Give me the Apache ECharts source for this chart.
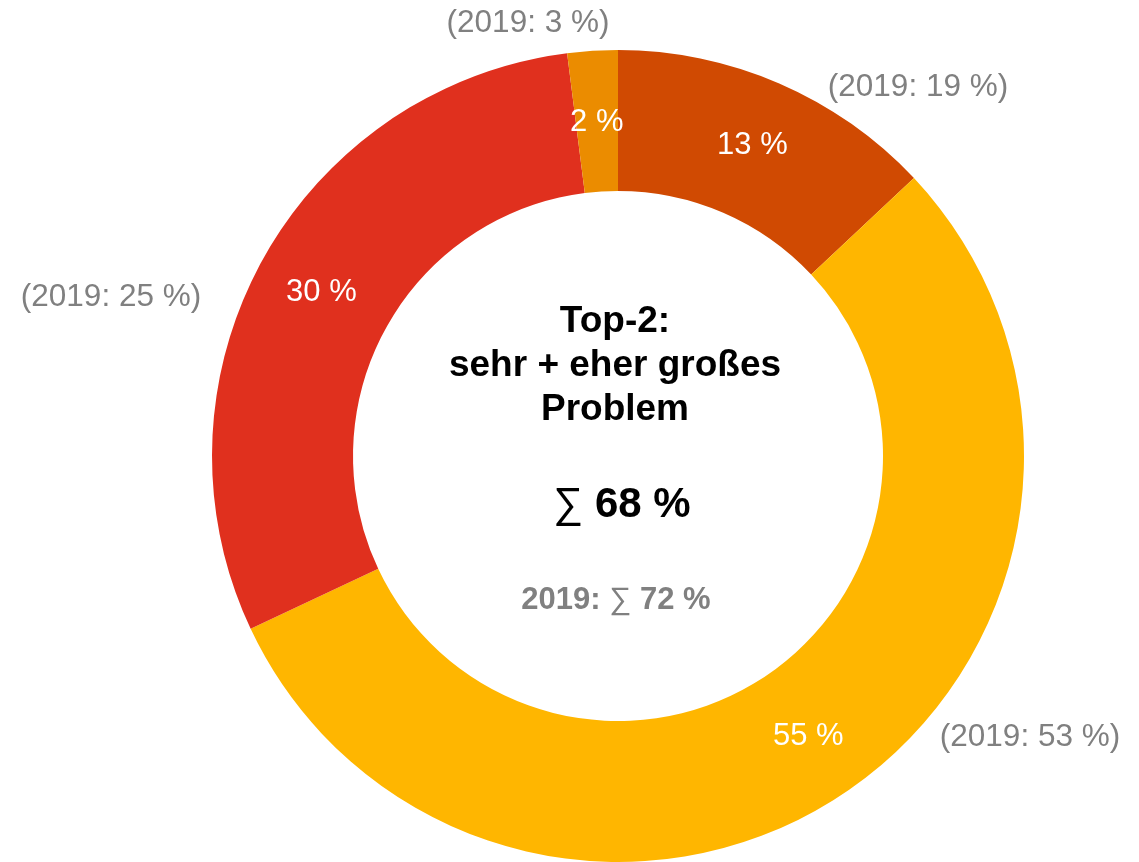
<!DOCTYPE html>
<html>
<head>
<meta charset="utf-8">
<script src="https://cdn.jsdelivr.net/npm/echarts@6/dist/echarts.min.js"></script>
<style>
  html, body { margin: 0; padding: 0; background: #fff; }
  #chart { width: 1139px; height: 862px; }
</style>
</head>
<body>
<div id="chart"></div>
<script>
// Answer shares (current survey) and the 2019 comparison values, clockwise from 12 o'clock
const categories = ['sehr großes Problem', 'eher großes Problem', 'eher kein Problem', 'gar kein Problem'];
const values = [13, 55, 30, 2];
const values2019 = [19, 53, 25, 3];
const colors = ['#D04A02', '#FFB600', '#E0301E', '#EB8C00'];

// Top-2 = first two answer options
const top2 = values[0] + values[1];
const top2Prev = values2019[0] + values2019[1];

// Where the comparison labels sit on the canvas
const prevLabelPos = [[918, 87], [1030, 737], [111, 297], [528, 23]];

const FONT = '"Liberation Sans", Arial, sans-serif';
const GRAY = '#808080';
const CX = 618, CY = 456;

const chart = echarts.init(document.getElementById('chart'), null, { renderer: 'canvas' });

const pieData = categories.map((name, i) => ({
  name, value: values[i], itemStyle: { color: colors[i] }
}));

chart.setOption({
  animation: false,
  series: [
    {
      type: 'pie',
      center: [CX, CY],
      radius: [265, 406],
      startAngle: 90,
      clockwise: true,
      avoidLabelOverlap: false,
      silent: true,
      itemStyle: { borderWidth: 0 },
      label: {
        show: true,
        position: 'inside',
        formatter: p => p.value + ' %',
        color: '#fff',
        fontFamily: FONT,
        fontSize: 31
      },
      labelLine: { show: false },
      labelLayout: p => (p.dataIndex === 3 ? { dy: 4 } : {}),
      data: pieData
    },
    {
      // same slices, invisible, carrying the 2019 comparison labels
      type: 'pie',
      center: [CX, CY],
      radius: [265, 406],
      startAngle: 90,
      clockwise: true,
      avoidLabelOverlap: false,
      silent: true,
      itemStyle: { color: 'rgba(0,0,0,0)', borderWidth: 0 },
      label: {
        show: true,
        position: 'outside',
        formatter: p => '(2019: ' + values2019[p.dataIndex] + ' %)',
        color: GRAY,
        fontFamily: FONT,
        fontSize: 31.5
      },
      labelLine: { show: false },
      labelLayout: p => ({
        x: prevLabelPos[p.dataIndex][0],
        y: prevLabelPos[p.dataIndex][1],
        align: 'center',
        verticalAlign: 'middle'
      }),
      data: categories.map((name, i) => ({ name, value: values[i] }))
    }
  ],
  graphic: [
    {
      type: 'text',
      style: {
        x: 615, y: 366,
        text: 'Top-2:\nsehr + eher großes\nProblem',
        fill: '#000', font: 'bold 37px ' + FONT,
        lineHeight: 44,
        align: 'center', verticalAlign: 'middle'
      }
    },
    {
      type: 'text',
      style: {
        x: 622, y: 505,
        text: '{s|∑} {b|' + top2 + ' %}',
        fill: '#000',
        align: 'center', verticalAlign: 'middle',
        rich: {
          s: { fontFamily: FONT, fontSize: 42, fontWeight: 'normal', fill: '#000' },
          b: { fontFamily: FONT, fontSize: 42, fontWeight: 'bold', fill: '#000' }
        },
        font: 'bold 42px ' + FONT
      }
    },
    {
      type: 'text',
      style: {
        x: 616, y: 600,
        text: '{b|2019:} {s|∑} {b|' + top2Prev + ' %}',
        fill: GRAY,
        align: 'center', verticalAlign: 'middle',
        rich: {
          s: { fontFamily: FONT, fontSize: 31, fontWeight: 'normal', fill: GRAY },
          b: { fontFamily: FONT, fontSize: 31, fontWeight: 'bold', fill: GRAY }
        },
        font: 'bold 31px ' + FONT
      }
    }
  ]
});
</script>
</body>
</html>
